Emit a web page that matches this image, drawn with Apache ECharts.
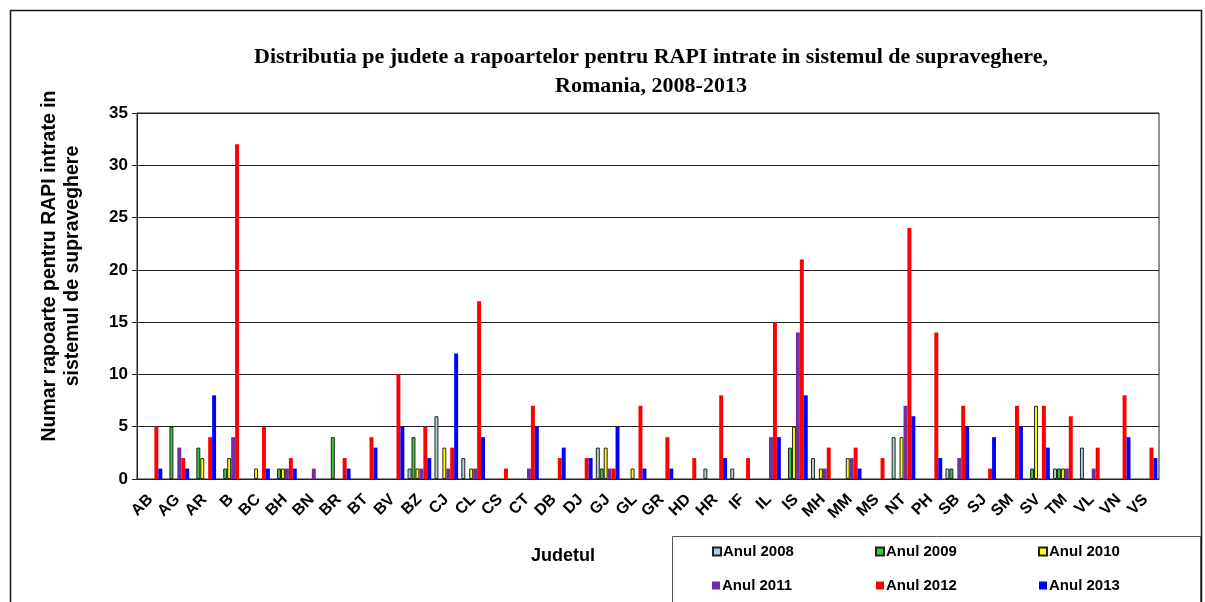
<!DOCTYPE html>
<html>
<head>
<meta charset="utf-8">
<script src="https://cdn.jsdelivr.net/npm/echarts@6/dist/echarts.min.js"></script>
<style>
  html, body { margin: 0; padding: 0; background: #fff; }
  #chart { width: 1205px; height: 602px; }
</style>
</head>
<body>
<div id="chart"></div>
<script>
const judete = ['AB', 'AG', 'AR', 'B', 'BC', 'BH', 'BN', 'BR', 'BT', 'BV', 'BZ', 'CJ', 'CL', 'CS', 'CT', 'DB', 'DJ', 'GJ', 'GL', 'GR',
  'HD', 'HR', 'IF', 'IL', 'IS', 'MH', 'MM', 'MS', 'NT', 'PH', 'SB', 'SJ', 'SM', 'SV', 'TM', 'VL', 'VN', 'VS']

const anul2008 = [0, 0, 0, 0, 0, 0, 0, 0, 0, 0, 1, 6, 2, 0, 0, 0, 0, 3, 0, 0, 0, 1, 1, 0, 0, 2, 0, 0, 4, 0, 1, 0, 0, 0, 1, 3, 0, 0]
const anul2009 = [0, 5, 3, 1, 0, 1, 0, 4, 0, 0, 4, 0, 0, 0, 0, 0, 0, 1, 0, 0, 0, 0, 0, 0, 3, 0, 0, 0, 0, 0, 1, 0, 0, 1, 1, 0, 0, 0]
const anul2010 = [0, 0, 2, 2, 1, 1, 0, 0, 0, 0, 1, 3, 1, 0, 0, 0, 0, 3, 1, 0, 0, 0, 0, 0, 5, 1, 2, 0, 4, 0, 0, 0, 0, 7, 1, 0, 0, 0]
const anul2011 = [0, 3, 0, 4, 0, 1, 1, 0, 0, 0, 1, 1, 1, 0, 1, 0, 0, 1, 0, 0, 0, 0, 0, 4, 14, 1, 2, 0, 7, 0, 2, 0, 0, 0, 1, 1, 0, 0]
const anul2012 = [5, 2, 4, 32, 5, 2, 0, 2, 4, 10, 5, 3, 17, 1, 7, 2, 2, 1, 7, 4, 2, 8, 2, 15, 21, 3, 3, 2, 24, 14, 7, 1, 7, 7, 6, 3, 8, 3]
const anul2013 = [1, 1, 8, 0, 1, 1, 0, 1, 3, 5, 2, 12, 4, 0, 5, 3, 2, 5, 1, 1, 0, 2, 0, 4, 8, 0, 1, 0, 6, 2, 5, 4, 5, 3, 0, 0, 4, 2]

const seriesNames = ['Anul 2008', 'Anul 2009', 'Anul 2010', 'Anul 2011', 'Anul 2012', 'Anul 2013']
const seriesData = [anul2008, anul2009, anul2010, anul2011, anul2012, anul2013]
const colors = ['#a9d4de', '#33cc33', '#ffff00', '#7030a0', '#ff0000', '#0000ff']
const bordered = [true, true, true, false, false, false]

const sans = '"Liberation Sans", Arial, sans-serif'

// legend slots: two rows, three columns
const legendPos = [[712, 544], [875, 544], [1038, 544], [712, 578], [876, 578], [1039, 578]]

const chart = echarts.init(document.getElementById('chart'))

const series = seriesNames.map((name, i) => ({
  name,
  type: 'bar',
  barGap: '0%',
  barCategoryGap: '12%',
  data: seriesData[i].map(v => (v === 0 ? '-' : v)),
  itemStyle: {
    color: colors[i],
    borderColor: bordered[i] ? '#222' : colors[i],
    borderWidth: bordered[i] ? 1 : 0
  }
}))

chart.setOption({
  animation: false,
  graphic: [
    {
      type: 'rect',
      shape: { x: 10.5, y: 10.5, width: 1191, height: 620 },
      style: { fill: 'none', stroke: '#111', lineWidth: 1.5 }
    },
    {
      type: 'rect',
      shape: { x: 672.5, y: 536.5, width: 528, height: 80 },
      style: { fill: 'none', stroke: '#555', lineWidth: 1 }
    },
    {
      type: 'text',
      x: 651,
      y: 43,
      style: {
        text: 'Distributia pe judete a rapoartelor pentru RAPI intrate in sistemul de supraveghere,\nRomania, 2008-2013',
        textAlign: 'center',
        font: 'bold 22px "Liberation Serif", "Times New Roman", serif',
        lineHeight: 29,
        fill: '#000'
      }
    },
    {
      type: 'text',
      x: 563,
      y: 547,
      style: {
        text: 'Judetul',
        textAlign: 'center',
        font: 'bold 18px ' + sans,
        fill: '#000'
      }
    },
    {
      type: 'text',
      x: 61,
      y: 266,
      rotation: Math.PI / 2,
      style: {
        text: 'Numar rapoarte pentru RAPI intrate in\nsistemul de supraveghere',
        textAlign: 'center',
        verticalAlign: 'middle',
        font: 'bold 19.5px ' + sans,
        lineHeight: 23,
        fill: '#000'
      }
    }
  ],
  legend: seriesNames.map((name, i) => ({
    data: [name],
    left: legendPos[i][0],
    top: legendPos[i][1],
    padding: 0,
    icon: 'rect',
    itemWidth: 8,
    itemHeight: 8,
    itemGap: 2,
    textStyle: { fontFamily: sans, fontWeight: 'bold', fontSize: 15, color: '#000', padding: [0, 0, 0, -3] }
  })),
  grid: {
    left: 137,
    right: 46,
    top: 113,
    bottom: 123,
    show: true,
    borderColor: '#222',
    borderWidth: 1
  },
  xAxis: {
    type: 'category',
    data: judete,
    axisLine: { lineStyle: { color: '#222', width: 1 } },
    axisTick: { length: 5, lineStyle: { color: '#222' } },
    axisLabel: {
      rotate: 45,
      interval: 0,
      margin: 18,
      padding: [0, 0, 0, 0],
      fontFamily: sans,
      fontWeight: 'bold',
      fontSize: 16,
      color: '#000'
    }
  },
  yAxis: {
    type: 'value',
    min: 0,
    max: 35,
    interval: 5,
    axisLine: { show: true, lineStyle: { color: '#222', width: 1 } },
    axisTick: { show: true, length: 5, lineStyle: { color: '#222' } },
    axisLabel: {
      margin: 9,
      fontFamily: sans,
      fontWeight: 'bold',
      fontSize: 17,
      color: '#000'
    },
    splitLine: { lineStyle: { color: '#222', width: 1 } }
  },
  series
})
</script>
</body>
</html>
